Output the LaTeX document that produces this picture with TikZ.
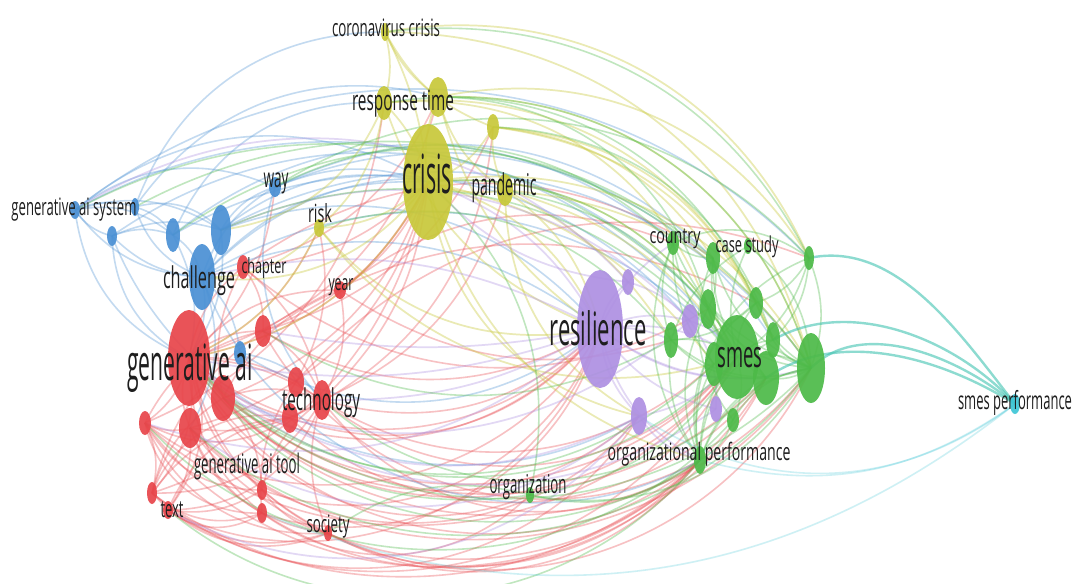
\documentclass[tikz,border=0pt]{standalone}
\usepackage{fontspec}
\setmainfont{Open Sans}
\usepackage{graphicx}
\usetikzlibrary{shapes.geometric}
\pgfdeclarelayer{bg}
\pgfdeclarelayer{edges}
\pgfsetlayers{bg,edges,main}
\definecolor{cRed}{HTML}{E8454A}
\definecolor{cGreen}{HTML}{4DBA48}
\definecolor{cBlue}{HTML}{4A90D4}
\definecolor{cYel}{HTML}{C8C83A}
\definecolor{cPur}{HTML}{AE90E2}
\definecolor{cCyan}{HTML}{3EC6D6}
\definecolor{cTxt}{HTML}{1E1E1E}
\newdimen\mypx \mypx=0.75pt
\tikzset{
 bubble/.style={ellipse, inner sep=0pt, draw=none, fill opacity=0.92},
 eR/.style={draw=cRed, line width=1.2pt, draw opacity=0.33},
 eB/.style={draw=cBlue, line width=1.2pt, draw opacity=0.33},
 eY/.style={draw=cYel, line width=1.3pt, draw opacity=0.38},
 eP/.style={draw=cPur, line width=1.3pt, draw opacity=0.35},
 eG/.style={draw=cGreen, line width=1.2pt, draw opacity=0.35},
 eC/.style={draw=cCyan!75!cGreen, line width=1.8pt, draw opacity=0.6},
 eCf/.style={draw=cCyan, line width=1.2pt, draw opacity=0.25},
 lbl/.style={anchor=base, inner sep=0pt, text=cTxt},
}
\newcommand\bub[6]{\node[bubble, fill=#6, minimum width={1.5*#4 pt}, minimum height={1.5*#5 pt}] (#1) at (#2,-#3) {};}
\newcommand\lbl[6]{\node[lbl] (#1) at (#2,-#3) {\resizebox{#4\mypx}{\height}{\fontsize{\the\dimexpr#5\mypx\relax}{\the\dimexpr#5\mypx\relax}\selectfont #6}};}
\begin{document}
\begin{tikzpicture}[x=0.75pt,y=0.75pt]
\begin{pgfonlayer}{bg}
\fill[white] (0,0) rectangle (1078,-583);
\end{pgfonlayer}
\useasboundingbox (0,0) rectangle (1078,-583);
% yellow
\bub{y4}{428}{182}{25}{58}{cYel}
\bub{y1}{385}{32}{4}{9}{cYel}
\bub{y2}{384}{103}{8}{17}{cYel}
\bub{y3}{438}{97}{10}{20}{cYel}
\bub{y5}{493}{127}{6}{13}{cYel}
\bub{y6}{505}{190}{8}{16}{cYel}
\bub{y7}{319}{228}{5}{9}{cYel}
% red
\bub{r1}{189}{358}{21}{48}{cRed}
\bub{r2}{223}{398}{12}{23}{cRed}
\bub{r3}{190}{428}{11}{20}{cRed}
\bub{r4}{243}{267}{6}{12}{cRed}
\bub{r5}{340}{290}{6}{9}{cRed}
\bub{r6}{263}{331}{8}{16}{cRed}
\bub{r7}{296}{382}{8}{15}{cRed}
\bub{r8}{322}{400}{9}{20}{cRed}
\bub{r9}{290}{418}{8}{15}{cRed}
\bub{r10}{145}{423}{6}{12}{cRed}
\bub{r11}{262}{490}{5}{10}{cRed}
\bub{r12}{262}{513}{5}{10}{cRed}
\bub{r13}{152}{493}{5}{11}{cRed}
\bub{r14}{168}{510}{5}{9}{cRed}
\bub{r15}{328}{533}{4}{8}{cRed}
% blue
\bub{b1}{75}{210}{5}{9}{cBlue}
\bub{b2}{135}{207}{4}{9}{cBlue}
\bub{b3}{112}{236}{5}{10}{cBlue}
\bub{b4}{173}{235}{7}{17}{cBlue}
\bub{b5}{221}{230}{10}{25}{cBlue}
\bub{b6}{202}{277}{13}{33}{cBlue}
\bub{b7}{275}{187}{6}{10}{cBlue}
\bub{b8}{240}{353}{6}{12}{cBlue}
% purple
\bub{p1}{600}{329}{23}{59}{cPur}
\bub{p2}{628}{282}{6}{13}{cPur}
\bub{p3}{690}{321}{8}{17}{cPur}
\bub{p4}{639}{416}{8}{19}{cPur}
\bub{p5}{716}{409}{6}{13}{cPur}
% green
\bub{g7}{737}{357}{22}{42}{cGreen}
\bub{g11}{811}{368}{14}{35}{cGreen}
\bub{g8}{766}{378}{13}{27}{cGreen}
\bub{g1}{673}{243}{6}{12}{cGreen}
\bub{g2}{713}{258}{7}{16}{cGreen}
\bub{g3}{809}{258}{5}{12}{cGreen}
\bub{g4}{756}{303}{7}{16}{cGreen}
\bub{g5}{708}{309}{8}{20}{cGreen}
\bub{g6}{671}{340}{7}{18}{cGreen}
\bub{g9}{773}{340}{7}{18}{cGreen}
\bub{g10}{714}{364}{9}{22}{cGreen}
\bub{g12}{733}{420}{6}{12}{cGreen}
\bub{g13}{700}{460}{6}{14}{cGreen}
\bub{g14}{530}{495}{4}{8}{cGreen}
\bub{g15}{748}{246}{4}{8}{cGreen}
% cyan
\bub{c1}{1015}{404}{5}{10}{cCyan}

\begin{pgfonlayer}{edges}
% red internal
\foreach \a/\b/\t in {r1/r2/20, r1/r3/-20, r1/r4/20, r1/r5/25, r1/r6/20, r1/r7/15, r1/r8/15, r1/r9/-15, r1/r10/20, r1/r11/-20, r1/r12/-25, r1/r13/25, r1/r14/30, r1/r15/-25, r2/r8/20, r2/r11/20, r2/r13/-20, r3/r8/-20, r3/r12/-20, r3/r14/20, r3/r10/20, r6/r8/20, r6/r4/-20, r7/r12/-20, r8/r11/-20, r8/r15/-20, r9/r13/-25, r10/r13/20, r10/r11/-30, r13/r12/-30, r14/r11/-20, r14/r15/-25, r4/r8/20, r5/r8/20, r6/r13/-20, r11/r15/-20, r2/r5/20, r9/r14/-30, r10/r15/-35, r13/r8/-30, r10/r12/-40, r14/r12/-35, r13/r15/-35, r3/r15/-30, r2/r4/20, r10/r6/25, r13/r9/40, r10/r9/-30, r14/r8/-35}
  \draw[eR] (\a.center) to[bend left=\t] (\b.center);
% red long
\foreach \a/\b/\t in {r1/p1/-45, r1/g7/-52, r1/p4/-50, r1/g13/-52, r1/g14/-45, r2/g7/-52, r2/p1/-40, r3/g11/-50, r3/p4/-50, r8/g7/-45, r8/p1/-30, r8/g13/-45, r9/g8/-48, r10/p1/-50, r10/g7/-50, r11/g13/-45, r12/g8/-48, r13/p4/-50, r14/g7/-48, r14/p1/-50, r15/g13/-40, r15/g11/-45, r6/p1/-30, r7/g10/-40, r4/g5/-35, r5/g6/-25, r12/g14/-40, r11/p1/-45, r3/g13/-50, r6/g13/-45, r2/g11/-50, r13/g8/-48, r10/g13/-50, r1/g8/-48, r9/p1/-35, r12/p1/-48, r1/y4/-25, r2/y4/-25, r6/y4/-20, r8/y4/-20, r4/y4/-20, r5/y4/-15, r7/y7/-20, r1/y7/-20, r8/y6/-25, r1/y3/-30, r9/y5/-30, r3/y4/-30, r1/b7/-20, r13/y4/-30, r10/y2/-30, r4/y3/-25, r6/y5/-25, r5/g1/30, r4/g2/35, r6/g4/30, r7/g3/35}
  \draw[eR] (\a.center) to[bend left=\t] (\b.center);
% blue
\foreach \a/\b/\t in {b1/b2/20, b1/b3/-20, b1/b4/25, b1/b5/25, b1/b6/-25, b2/b4/20, b2/b6/-25, b3/b6/-20, b3/b5/20, b4/b6/20, b5/b6/20, b5/b7/20, b6/b7/20, b6/r1/20, b5/r1/20, b4/r1/20, b1/r1/-30, b3/r1/-30, b6/b8/20, b8/r8/20, b6/r3/25, b7/r8/-30, b2/b5/30, b1/b7/30, b3/b4/20, b6/y4/25, b5/y4/25, b7/y4/20, b1/y4/35, b2/y3/35, b4/y2/35, b6/p1/30, b5/p1/35, b1/g7/42, b6/g7/40, b4/g1/40, b7/g2/35, b5/g11/42, b2/y1/35, b6/y6/30, b3/g5/42, b1/g3/42, b7/g9/40, b4/p3/40, b8/p1/-35, b6/g13/-50, b3/p4/-50}
  \draw[eB] (\a.center) to[bend left=\t] (\b.center);
% yellow
\foreach \a/\b/\t in {y1/y2/15, y1/y3/-15, y1/y4/10, y2/y4/15, y3/y4/-15, y4/y5/-20, y4/y6/-15, y4/y7/20, y2/y7/20, y5/y6/-15, y3/y6/-20, y1/y5/-20, y4/p1/25, y4/g7/35, y4/g11/35, y3/g3/35, y2/g5/38, y5/g4/30, y6/p1/20, y6/g7/20, y4/g13/-30, y5/g2/25, y1/g3/38, y3/g11/38, y6/g6/15, y4/r1/25, y7/r1/20, y4/b6/30, y2/b5/30, y7/b6/25, y6/p4/-30, y4/g10/20, y2/g9/38, y4/p4/-35, y1/g11/38, y3/p1/-20, y2/p1/-25, y5/g9/30, y6/g11/25, y7/p1/-30, y7/g7/-35}
  \draw[eY] (\a.center) to[bend left=\t] (\b.center);
% purple
\foreach \a/\b/\t in {p1/p2/20, p1/p3/20, p1/p4/-20, p1/p5/-20, p3/p5/20, p2/p3/15, p1/g7/20, p1/g11/-25, p1/g6/15, p1/g13/-25, p3/g7/20, p4/g13/-20, p4/g7/-20, p1/g8/-20, p1/g1/15, p1/r1/15, p1/b6/-20, p1/r8/15, p4/r1/35, p4/r14/40, p3/b5/-35, p1/y4/-20, p2/y4/20, p5/r1/40, p3/r2/30, p2/b1/-40, p1/r6/10, p4/r3/40, p1/r10/30}
  \draw[eP] (\a.center) to[bend left=\t] (\b.center);
% green
\foreach \a/\b/\t in {g7/g1/20, g7/g2/20, g7/g3/-20, g7/g4/20, g7/g5/15, g7/g6/-20, g7/g8/20, g7/g9/20, g7/g10/-20, g7/g11/20, g7/g12/20, g7/g13/-20, g7/g15/20, g11/g1/25, g11/g2/25, g11/g3/-20, g11/g4/20, g11/g5/25, g11/g6/30, g11/g8/20, g11/g9/20, g11/g12/-25, g11/g13/-30, g8/g5/20, g8/g6/25, g8/g13/-20, g8/g2/25, g2/g1/20, g2/g5/20, g3/g4/20, g3/g9/20, g1/g6/-20, g1/g13/-30, g14/g7/-25, g14/g13/-25, g14/g11/-35, g10/g1/20, g10/g13/-20, g6/g13/-20, g5/g13/-25, g12/g13/20, g4/g13/-35, g3/g13/-40, g15/g11/25, g15/g6/-20, g9/g13/-30, g2/g12/-30, g1/g3/30, g6/g4/-20, g7/y4/-35, g11/y3/-38, g3/y1/-35, g2/b4/-38, g1/b7/-35, g7/r1/48, g11/r3/48, g13/r14/45, g8/r8/45, g14/r1/30, g14/r15/-25, g5/y6/-20, g9/y5/-35, g11/b2/-42, g6/r6/30, g4/y2/-38, g7/b5/-38, g11/r1/48, g14/y4/-30, g13/r1/45, g12/r10/48, g3/b7/-40, g5/y3/-38, g8/b1/-42, g10/r2/40, g6/y7/-35}
  \draw[eG] (\a.center) to[bend left=\t] (\b.center);
% cyan
\foreach \a/\b/\o/\i in {g3/c1/12/128, g9/c1/30/132, g11/c1/45/140, g8/c1/35/148}
  \draw[eC] (\a.center) to[out=\o, in=\i, looseness=0.9] (\b.center);
\foreach \a/\b/\t in {g13/c1/-25, p4/c1/-35, r12/c1/-30}
  \draw[eCf] (\a.center) to[bend left=\t] (\b.center);
\end{pgfonlayer}

% labels
\lbl{L1}{386}{36}{108}{24}{coronavirus crisis}
\lbl{L2}{403}{110}{102}{28}{response time}
\lbl{L3}{427}{193}{50}{54}{crisis}
\lbl{L4}{504}{195}{65}{30}{pandemic}
\lbl{L5}{320}{222}{24}{25}{risk}
\lbl{L6}{276}{187}{25}{27}{way}
\lbl{L7}{74}{215}{125}{24}{generative ai system}
\lbl{L8}{199}{288}{72}{30}{challenge}
\lbl{L9}{264}{273}{45}{21}{chapter}
\lbl{L10}{341}{290}{25}{22}{year}
\lbl{L11}{190}{380}{126}{50}{generative ai}
\lbl{L12}{321}{410}{78}{30}{technology}
\lbl{L13}{247}{473}{106}{27}{generative ai tool}
\lbl{L14}{172}{517}{23}{24}{text}
\lbl{L15}{328}{532}{43}{24}{society}
\lbl{L16}{528}{493}{77}{26}{organization}
\lbl{L17}{598}{345}{97}{46}{resilience}
\lbl{L18}{675}{243}{51}{22}{country}
\lbl{L19}{747}{252}{63}{22}{case study}
\lbl{L20}{740}{367}{45}{37}{smes}
\lbl{L21}{699}{460}{183}{24}{organizational performance}
\lbl{L22}{1015}{409}{114}{25}{smes performance}
\end{tikzpicture}
\end{document}
